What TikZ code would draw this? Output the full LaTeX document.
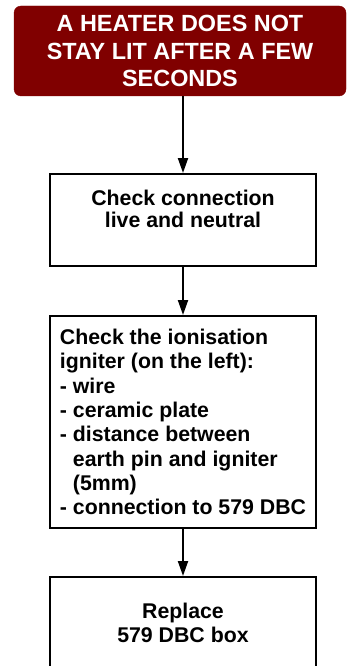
\documentclass[tikz,border=0pt]{standalone}
\usepackage{fontspec}
\setmainfont{Liberation Sans}
\usetikzlibrary{arrows.meta,positioning}
\definecolor{HeaterRed}{RGB}{128,0,0}

\begin{document}
\begin{tikzpicture}[x=1pt,y=-1pt,
    faultbox/.style={fill=HeaterRed,draw=HeaterRed,rounded corners=7pt,text=white,
      font=\fontsize{23.4}{27.2}\selectfont\bfseries,align=center,
      minimum width=332pt,minimum height=90pt,inner sep=0pt},
    stepbox/.style={draw,line width=2pt,font=\fontsize{21.3}{24.3}\selectfont\bfseries,
      minimum width=266pt,minimum height=92pt,inner sep=0pt},
    flow/.style={-{Triangle[length=15pt,width=10pt]},line width=2pt}]
  \useasboundingbox (0,0) rectangle (347,666);
  \clip (0,0) rectangle (347,666);
  \node[faultbox] (fault) at (180,51) {A HEATER DOES NOT\\STAY LIT AFTER A FEW\\SECONDS};
  \node[stepbox,align=center,font=\fontsize{21.3}{22.3}\selectfont\bfseries] (mains) at (183,220)
    {Check connection\\live and neutral\\\mbox{}};
  \node[stepbox,align=left,minimum height=212pt] (igniter) at (183,422)
    {Check the ionisation\\igniter (on the left):\\- wire\\- ceramic plate\\- distance between\\
     \phantom{-\ }earth pin and igniter\\\phantom{-\ }(5mm)\\- connection to 579 DBC};
  \node[stepbox,align=center,font=\fontsize{21.3}{24}\selectfont\bfseries] (dbc) at (183,623)
    {Replace\\579 DBC box};
  \draw[flow] (fault.south -| mains.north) -- (mains);
  \draw[flow] (mains) -- (igniter);
  \draw[flow] (igniter) -- (dbc);
\end{tikzpicture}
\end{document}
